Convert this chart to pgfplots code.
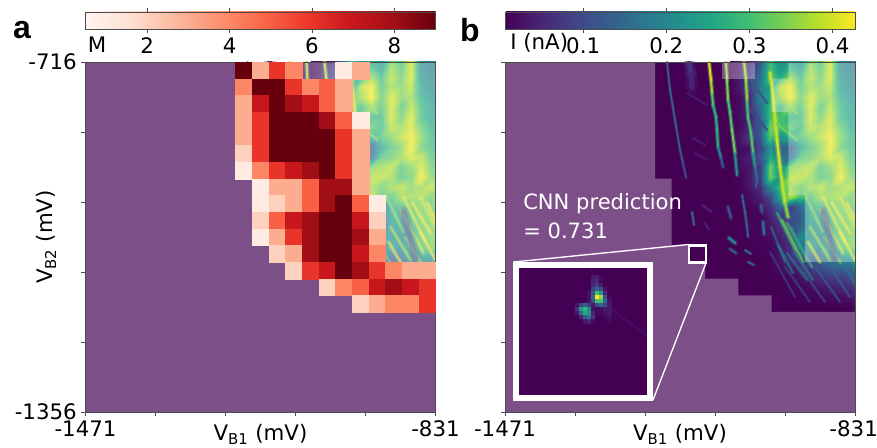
\documentclass[border=0pt]{standalone}
\usepackage{pgfplots}
\usepackage{fontspec}
\pgfplotsset{compat=1.18}
\usepgfplotslibrary{patchplots}
\setmainfont{DejaVu Sans}
\newfontfamily\panelfont{Liberation Sans}
\pgfplotsset{
  colormap={vir}{rgb255=(68,1,84) rgb255=(72,36,117) rgb255=(65,68,135) rgb255=(53,95,141) rgb255=(42,120,142) rgb255=(33,145,140) rgb255=(34,168,132) rgb255=(68,191,112) rgb255=(122,209,81) rgb255=(189,223,38) rgb255=(253,231,37)},
  colormap={red}{rgb255=(255,245,240) rgb255=(254,224,210) rgb255=(252,187,161) rgb255=(252,146,114) rgb255=(251,106,74) rgb255=(239,59,44) rgb255=(203,24,29) rgb255=(165,15,21) rgb255=(103,0,13)},
  panel/.style={scale only axis,width=262.5pt,height=262.5pt,anchor=south west},
  fr/.style={axis line style={black!70,line width=.6pt},tick style={black!70,line width=.6pt},major tick length=3pt,tick align=outside,tick pos=left,
    tick label style={font=\fontsize{16}{16}\selectfont},label style={font=\fontsize{16}{16}\selectfont}},
  lab/.style={xlabel={V\textsubscript{B1} (mV)},ylabel={V\textsubscript{B2} (mV)},
    xlabel style={at={(axis description cs:0.5,-0.082)},anchor=base},
    ylabel style={at={(axis description cs:-0.112,0.5)},anchor=center,rotate=0}},
  st/.style={mesh,point meta=explicit,line cap=round,forget plot},
}
\newcommand{\Stripe}[2]{%
  \addplot[st,line width=#1*2.2,opacity=.35] coordinates {#2};
  \addplot[st,line width=#1] coordinates {#2};
}
\newcommand{\Soft}[2]{%
  \addplot[st,line width=#1*2,opacity=.3] coordinates {#2};
  \addplot[st,line width=#1,opacity=.55] coordinates {#2};
}
\newcommand{\FieldPlots}{%
  \addplot[matrix plot*,shader=interp,point meta=explicit,mesh/cols=13,mesh/check=false] coordinates {
(230,0)[0](240,0)[3](250,0)[4](260,0)[10](270,0)[30](280,0)[20](290,0)[24](300,0)[20](310,0)[34](320,0)[28](330,0)[40](340,0)[20](350,0)[18]
(230,10)[0](240,10)[3](250,10)[6](260,10)[14](270,10)[30](280,10)[22](290,10)[28](300,10)[22](310,10)[36](320,10)[30](330,10)[40](340,10)[20](350,10)[18]
(230,20)[0](240,20)[4](250,20)[8](260,20)[16](270,20)[32](280,20)[26](290,20)[36](300,20)[28](310,20)[38](320,20)[32](330,20)[40](340,20)[22](350,20)[20]
(230,30)[0](240,30)[4](250,30)[10](260,30)[18](270,30)[24](280,30)[38](290,30)[42](300,30)[30](310,30)[36](320,30)[34](330,30)[38](340,30)[24](350,30)[20]
(230,40)[0](240,40)[2](250,40)[6](260,40)[20](270,40)[26](280,40)[36](290,40)[43](300,40)[32](310,40)[40](320,40)[34](330,40)[36](340,40)[26](350,40)[22]
(230,50)[0](240,50)[2](250,50)[6](260,50)[16](270,50)[30](280,50)[28](290,50)[36](300,50)[30](310,50)[40](320,50)[30](330,50)[38](340,50)[28](350,50)[24]
(230,60)[0](240,60)[2](250,60)[4](260,60)[14](270,60)[30](280,60)[30](290,60)[28](300,60)[28](310,60)[40](320,60)[32](330,60)[40](340,60)[28](350,60)[24]
(230,70)[0](240,70)[2](250,70)[6](260,70)[12](270,70)[34](280,70)[30](290,70)[32](300,70)[28](310,70)[38](320,70)[36](330,70)[40](340,70)[32](350,70)[26]
(230,80)[0](240,80)[3](250,80)[8](260,80)[12](270,80)[32](280,80)[22](290,80)[26](300,80)[30](310,80)[34](320,80)[38](330,80)[42](340,80)[34](350,80)[28]
(230,90)[0](240,90)[2](250,90)[3](260,90)[10](270,90)[22](280,90)[14](290,90)[12](300,90)[24](310,90)[30](320,90)[34](330,90)[42](340,90)[32](350,90)[28]
(230,100)[0](240,100)[2](250,100)[5](260,100)[12](270,100)[26](280,100)[18](290,100)[14](300,100)[30](310,100)[32](320,100)[36](330,100)[40](340,100)[38](350,100)[30]
(230,110)[0](240,110)[2](250,110)[3](260,110)[8](270,110)[34](280,110)[20](290,110)[34](300,110)[36](310,110)[38](320,110)[30](330,110)[34](340,110)[40](350,110)[32]
(230,120)[0](240,120)[1](250,120)[4](260,120)[8](270,120)[34](280,120)[22](290,120)[38](300,120)[38](310,120)[36](320,120)[30](330,120)[32](340,120)[42](350,120)[34]
(230,130)[0](240,130)[1](250,130)[3](260,130)[6](270,130)[20](280,130)[30](290,130)[36](300,130)[32](310,130)[36](320,130)[38](330,130)[34](340,130)[36](350,130)[38]
(230,140)[0](240,140)[0](250,140)[2](260,140)[4](270,140)[10](280,140)[26](290,140)[38](300,140)[30](310,140)[30](320,140)[36](330,140)[36](340,140)[36](350,140)[32]
(230,150)[0](240,150)[0](250,150)[1](260,150)[2](270,150)[6](280,150)[14](290,150)[8](300,150)[14](310,150)[26](320,150)[28](330,150)[32](340,150)[34](350,150)[32]
(230,160)[0](240,160)[0](250,160)[1](260,160)[1](270,160)[4](280,160)[8](290,160)[10](300,160)[12](310,160)[24](320,160)[26](330,160)[30](340,160)[34](350,160)[34]
(230,170)[0](240,170)[0](250,170)[1](260,170)[1](270,170)[3](280,170)[6](290,170)[10](300,170)[14](310,170)[22](320,170)[22](330,170)[28](340,170)[32](350,170)[34]
(230,180)[0](240,180)[0](250,180)[1](260,180)[1](270,180)[2](280,180)[4](290,180)[8](300,180)[20](310,180)[22](320,180)[20](330,180)[26](340,180)[32](350,180)[34]
(230,190)[0](240,190)[0](250,190)[0](260,190)[1](270,190)[1](280,190)[3](290,190)[6](300,190)[16](310,190)[24](320,190)[20](330,190)[28](340,190)[30](350,190)[34]
(230,200)[0](240,200)[0](250,200)[0](260,200)[0](270,200)[1](280,200)[3](290,200)[6](300,200)[10](310,200)[14](320,200)[16](330,200)[20](340,200)[22](350,200)[22]
(230,210)[0](240,210)[0](250,210)[0](260,210)[0](270,210)[0](280,210)[2](290,210)[3](300,210)[5](310,210)[8](320,210)[11](330,210)[13](340,210)[15](350,210)[15]
(230,220)[0](240,220)[0](250,220)[0](260,220)[0](270,220)[0](280,220)[0](290,220)[1](300,220)[3](310,220)[4](320,220)[6](330,220)[8](340,220)[8](350,220)[10]
(230,230)[0](240,230)[0](250,230)[0](260,230)[0](270,230)[0](280,230)[0](290,230)[1](300,230)[1](310,230)[2](320,230)[3](330,230)[4](340,230)[5](350,230)[6]
(230,240)[0](240,240)[0](250,240)[0](260,240)[0](270,240)[0](280,240)[0](290,240)[0](300,240)[1](310,240)[1](320,240)[1](330,240)[2](340,240)[2](350,240)[3]
(230,250)[0](240,250)[0](250,250)[0](260,250)[0](270,250)[0](280,250)[0](290,250)[0](300,250)[0](310,250)[0](320,250)[0](330,250)[0](340,250)[0](350,250)[0]
  };
  \Stripe{1.1pt}{(162,0)[13](165,28)[14](170,58)[14](175,88)[13](178,101)[12](181,116)[9]}
  \Stripe{1.5pt}{(204,0)[40](206,18)[40](207,31)[34](208,43)[28](211,55)[26](212,68)[28](213,85)[26](216,96)[14](218,105)[8]}
  \Stripe{1.5pt}{(221,0)[36](222,18)[36](223,38)[32](225,50)[28](227,68)[34](230,91)[32](232,113)[12]}
  \Stripe{1.5pt}{(239,0)[36](241,18)[38](242,38)[34](243,56)[26](246,70)[34](248,91)[28](250,105)[18](252,118)[12]}
  \Stripe{4pt}{(184,0)[6](186,12)[7](187,25)[3]}
  \Stripe{.8pt}{(182,31)[4](202,43)[5]}
  \Stripe{1pt}{(188,76)[4](200,83)[4]}
  \Stripe{1pt}{(190,91)[4](203,98)[3]}
  \Stripe{1.8pt}{(265,11)[38](268,35)[40](270,55)[38](272,78)[40](275,105)[40](280,141)[38](283,155)[32]}
  \Stripe{1.2pt}{(245,18)[10](254,30)[14](262,41)[10]}
  \Stripe{1.2pt}{(245,48)[8](254,58)[12](262,68)[10]}
  \Stripe{1.2pt}{(248,70)[8](258,88)[12]}
  \Stripe{1.4pt}{(272,35)[36](292,51)[34]}
  \Stripe{1.4pt}{(272,62)[34](292,78)[32]}
  \Stripe{1.2pt}{(187,150)[15](189,163)[13]}
  \Stripe{.9pt}{(197,143)[6](207,150)[5]}
  \Stripe{.9pt}{(200,161)[6](204,168)[5]}
  \Stripe{1.6pt}{(223,145)[10](226,156)[12]}
  \Stripe{1.2pt}{(237,133)[13](240,150)[15](242,165)[14](243,175)[12]}
  \Stripe{1.2pt}{(252,118)[12](251,125)[14]}
  \Stripe{1.8pt}{(256,143)[13](257,150)[11]}
  \Stripe{1.6pt}{(258,160)[18](259,172)[14]}
  \Stripe{1.8pt}{(224,176)[20](230,181)[18]}
  \Stripe{1.4pt}{(225,187)[13](231,191)[12]}
  \Stripe{1.2pt}{(240,188)[15](246,192)[13]}
  \Stripe{1.2pt}{(243,200)[14](249,203)[12]}
  \Soft{1.4pt}{(272,151)[28](290,188)[30]}
  \Soft{1.4pt}{(277,158)[34](298,200)[34]}
  \Soft{1.4pt}{(282,161)[30](307,205)[30]}
  \Soft{1.2pt}{(286,165)[24](300,195)[24]}
  \Soft{1.2pt}{(266,165)[16](280,200)[16]}
  \Soft{1.4pt}{(273,183)[18](288,211)[20]}
  \Soft{1.2pt}{(282,191)[18](302,218)[20]}
  \Soft{1.2pt}{(290,191)[22](308,218)[20]}
  \Soft{1pt}{(265,190)[10](290,235)[10]}
  \Soft{1pt}{(280,205)[12](305,240)[10]}
  \Soft{1pt}{(295,205)[14](320,240)[12]}
  \Soft{1pt}{(310,205)[18](335,240)[12]}
  \Soft{1pt}{(325,205)[18](345,235)[14]}
  \Soft{1pt}{(340,205)[20](350,222)[16]}
  \Soft{1.5pt}{(327,141)[42](345,171)[42]}
  \Soft{1.5pt}{(342,141)[42](350,158)[42]}
  \Soft{1.5pt}{(315,148)[38](338,191)[42]}
  \Soft{1.5pt}{(305,165)[36](325,198)[38]}
  \Soft{1.5pt}{(300,133)[34](318,170)[36]}
  \Soft{1.5pt}{(318,135)[42](340,180)[40]}
  \Soft{1.5pt}{(335,135)[40](350,165)[40]}
  \Soft{1.5pt}{(303,180)[40](315,200)[42]}
  \Soft{1.5pt}{(320,175)[36](335,200)[38]}
  \Soft{1.5pt}{(335,170)[42](350,198)[42]}
  \Soft{4pt}{(318,150)[10](330,196)[10]}
  \addplot[fill=white,fill opacity=.31,draw=none,forget plot] coordinates {(0,0)(150,0)(150,116.67)(166.67,116.67)(166.67,183.33)(183.33,183.33)(183.33,200)(200,200)(200,216.67)(233.33,216.67)(233.33,233.33)(266.67,233.33)(266.67,250)(350,250)(350,350)(0,350)} -- cycle;
  \addplot[fill=white,fill opacity=.31,draw=none,forget plot] coordinates {(283.33,0)(283.33,16.67)(266.67,16.67)(266.67,50)(283.33,50)(283.33,133.33)(300,133.33)(300,200)(350,200)(350,0)} -- cycle;
  \addplot[fill=white,fill opacity=.31,draw=none,forget plot] coordinates {(216.67,0)(250,0)(250,16.67)(216.67,16.67)} -- cycle;
}
\begin{document}
\begin{tikzpicture}
\path[use as bounding box] (0pt,0pt) rectangle (657.75pt,336pt);
% ---------- panel a : measured field below, map of M above
\begin{axis}[panel,at={(64.125pt,27pt)},xmin=0,xmax=350,ymin=0,ymax=350,y dir=reverse,axis lines=none,
  colormap name=vir,point meta min=0.6,point meta max=42.7,
  axis background/.style={fill={rgb,255:red,68;green,1;blue,84}}]
\FieldPlots
\end{axis}
\begin{axis}[panel,fr,lab,at={(64.125pt,27pt)},xmin=0,xmax=21,ymin=0,ymax=21,y dir=reverse,
  xtick={0,4.2,8.4,12.6,16.8,21},xticklabels={-1471,,,,,-831},
  ytick={0,4.2,8.4,12.6,16.8,21},yticklabels={-716,,,,,-1356},
  colormap name=red,point meta min=0.5,point meta max=9,
  colorbar horizontal,
  colorbar style={at={(0,1.0943)},anchor=south west,scale only axis,width=262.5pt,height=12.75pt,
    xtick={2,4,6,8},xticklabels={2,4,6,8},ytick=\empty,xticklabel pos=lower,xlabel={},ylabel={},
    axis line style={black!70,line width=.6pt},tick style={black!70,line width=.6pt},major tick length=3pt,tick align=outside,
    tick label style={font=\fontsize{16}{16}\selectfont}}]
\addplot[scatter,only marks,mark=square*,mark size=6.25pt,scatter src=explicit,
  scatter/use mapped color={draw=mapped color,fill=mapped color},mark options={line width=.15pt}]
 coordinates {
(9.5,.5)[9](10.5,.5)[3](11.5,.5)[6](12.5,.5)[4](15.5,.5)[1](16.5,.5)[3]
(9.5,1.5)[4](10.5,1.5)[9](11.5,1.5)[9](12.5,1.5)[6](13.5,1.5)[4](14.5,1.5)[5](15.5,1.5)[3]
(9.5,2.5)[3](10.5,2.5)[7](11.5,2.5)[9](12.5,2.5)[8](13.5,2.5)[7](14.5,2.5)[5](15.5,2.5)[3]
(9.5,3.5)[3](10.5,3.5)[6](11.5,3.5)[9](12.5,3.5)[9](13.5,3.5)[9](14.5,3.5)[8](15.5,3.5)[5](16.5,3.5)[1]
(9.5,4.5)[3](10.5,4.5)[6](11.5,4.5)[9](12.5,4.5)[9](13.5,4.5)[9](14.5,4.5)[9](15.5,4.5)[6](16.5,4.5)[3]
(9.5,5.5)[2](10.5,5.5)[6](11.5,5.5)[9](12.5,5.5)[9](13.5,5.5)[9](14.5,5.5)[9](15.5,5.5)[6](16.5,5.5)[3]
(9.5,6.5)[1](10.5,6.5)[4](11.5,6.5)[6](12.5,6.5)[7](13.5,6.5)[8](14.5,6.5)[9](15.5,6.5)[6](16.5,6.5)[3]
(10.5,7.5)[1](11.5,7.5)[3](12.5,7.5)[3](13.5,7.5)[5](14.5,7.5)[8](15.5,7.5)[8](16.5,7.5)[3]
(10.5,8.5)[1](11.5,8.5)[2](12.5,8.5)[3](13.5,8.5)[5](14.5,8.5)[8](15.5,8.5)[9](16.5,8.5)[5](17.5,8.5)[1]
(10.5,9.5)[2](11.5,9.5)[5](12.5,9.5)[7](13.5,9.5)[8](14.5,9.5)[9](15.5,9.5)[9](16.5,9.5)[7](17.5,9.5)[2]
(10.5,10.5)[1](11.5,10.5)[3](12.5,10.5)[6](13.5,10.5)[8](14.5,10.5)[9](15.5,10.5)[9](16.5,10.5)[8](17.5,10.5)[3]
(11.5,11.5)[2](12.5,11.5)[3](13.5,11.5)[8](14.5,11.5)[9](15.5,11.5)[9](16.5,11.5)[7](17.5,11.5)[4]
(12.5,12.5)[2](13.5,12.5)[6](14.5,12.5)[7](15.5,12.5)[9](16.5,12.5)[8](17.5,12.5)[6](18.5,12.5)[4](19.5,12.5)[3](20.5,12.5)[3]
(14.5,13.5)[2](15.5,13.5)[4](16.5,13.5)[5](17.5,13.5)[7](18.5,13.5)[8](19.5,13.5)[7](20.5,13.5)[6]
(16.5,14.5)[2](17.5,14.5)[3](18.5,14.5)[4](19.5,14.5)[4](20.5,14.5)[6]
 };
\end{axis}
% ---------- panel b
\begin{axis}[panel,fr,lab,at={(378.75pt,27pt)},xmin=0,xmax=350,ymin=0,ymax=350,y dir=reverse,
  xtick={0,70,140,210,280,350},xticklabels={-1471,,,,,-831\kern 2pt},
  ytick={0,70,140,210,280,350},yticklabels={,,,,,},ylabel={},
  colormap name=vir,point meta min=0.6,point meta max=42.7,
  axis background/.style={fill={rgb,255:red,68;green,1;blue,84}},
  axis on top,
  colorbar horizontal,
  colorbar style={at={(0,1.0943)},anchor=south west,scale only axis,width=262.5pt,height=12.75pt,
    xtick={10,20,30,40},xticklabels={0.1,0.2,0.3,0.4},ytick=\empty,xticklabel pos=lower,xlabel={},ylabel={},
    axis line style={black!70,line width=.6pt},tick style={black!70,line width=.6pt},major tick length=3pt,tick align=outside,
    tick label style={font=\fontsize{16}{16}\selectfont}}]
\FieldPlots
\end{axis}
% ---------- inset
\begin{axis}[scale only axis,width=96pt,height=96pt,anchor=south west,at={(389.5pt,39.2pt)},
  xmin=0,xmax=32,ymin=0,ymax=32,y dir=reverse,axis lines=none,
  colormap name=vir,point meta min=0,point meta max=43,
  axis background/.style={fill={rgb,255:red,68;green,1;blue,84}}]
\addplot[matrix plot*,point meta=explicit,mesh/cols=10] coordinates {
(13.5,2.5)[0](14.5,2.5)[0](15.5,2.5)[0](16.5,2.5)[0](17.5,2.5)[0](18.5,2.5)[3](19.5,2.5)[4](20.5,2.5)[1](21.5,2.5)[0](22.5,2.5)[0]
(13.5,3.5)[0](14.5,3.5)[0](15.5,3.5)[0](16.5,3.5)[0](17.5,3.5)[0](18.5,3.5)[4](19.5,3.5)[5](20.5,3.5)[1](21.5,3.5)[0](22.5,3.5)[0]
(13.5,4.5)[0](14.5,4.5)[0](15.5,4.5)[0](16.5,4.5)[0](17.5,4.5)[0](18.5,4.5)[5](19.5,4.5)[8](20.5,4.5)[3](21.5,4.5)[0](22.5,4.5)[0]
(13.5,5.5)[0](14.5,5.5)[0](15.5,5.5)[0](16.5,5.5)[0](17.5,5.5)[0](18.5,5.5)[8](19.5,5.5)[14](20.5,5.5)[10](21.5,5.5)[2](22.5,5.5)[0]
(13.5,6.5)[0](14.5,6.5)[0](15.5,6.5)[0](16.5,6.5)[0](17.5,6.5)[2](18.5,6.5)[12](19.5,6.5)[30](20.5,6.5)[22](21.5,6.5)[5](22.5,6.5)[0]
(13.5,7.5)[0](14.5,7.5)[0](15.5,7.5)[0](16.5,7.5)[0](17.5,7.5)[2](18.5,7.5)[14](19.5,7.5)[43](20.5,7.5)[36](21.5,7.5)[10](22.5,7.5)[1]
(13.5,8.5)[0](14.5,8.5)[0](15.5,8.5)[0](16.5,8.5)[0](17.5,8.5)[2](18.5,8.5)[10](19.5,8.5)[30](20.5,8.5)[30](21.5,8.5)[14](22.5,8.5)[2]
(13.5,9.5)[0](14.5,9.5)[2](15.5,9.5)[8](16.5,9.5)[14](17.5,9.5)[8](18.5,9.5)[3](19.5,9.5)[10](20.5,9.5)[14](21.5,9.5)[9](22.5,9.5)[3]
(13.5,10.5)[0](14.5,10.5)[6](15.5,10.5)[24](16.5,10.5)[28](17.5,10.5)[20](18.5,10.5)[2](19.5,10.5)[1](20.5,10.5)[2](21.5,10.5)[3](22.5,10.5)[3]
(13.5,11.5)[0](14.5,11.5)[3](15.5,11.5)[14](16.5,11.5)[26](17.5,11.5)[22](18.5,11.5)[4](19.5,11.5)[1](20.5,11.5)[1](21.5,11.5)[2](22.5,11.5)[3]
(13.5,12.5)[0](14.5,12.5)[0](15.5,12.5)[4](16.5,12.5)[12](17.5,12.5)[16](18.5,12.5)[6](19.5,12.5)[0](20.5,12.5)[0](21.5,12.5)[1](22.5,12.5)[2]
(13.5,13.5)[0](14.5,13.5)[0](15.5,13.5)[0](16.5,13.5)[3](17.5,13.5)[4](18.5,13.5)[1](19.5,13.5)[0](20.5,13.5)[0](21.5,13.5)[0](22.5,13.5)[1]
};
\addplot[mesh,point meta=explicit,line width=1pt,opacity=.6] coordinates {(18,0)[3](18.5,2.5)[3]};
\addplot[mesh,point meta=explicit,line width=1.4pt,opacity=.6] coordinates {(22.5,10)[3](32,17)[2]};
\end{axis}
% ---------- annotation, in pixel units from the top left
\begin{scope}[x=.75pt,y=-.75pt,yshift=336pt]
\draw[white,line width=4.5pt] (516.3,264.7) rectangle (650.3,397.7);
\draw[white,line width=1pt] (513.5,262) -- (689,244.5);
\draw[white,line width=1pt] (653,400) -- (706,263);
\draw[white,line width=1.6pt] (689,245.5) rectangle (706,262.5);
\node[white,anchor=west,inner sep=0pt,font=\fontsize{15.8}{16}\selectfont] at (523,204) {CNN prediction};
\node[white,anchor=west,inner sep=0pt,font=\fontsize{15.8}{16}\selectfont] at (523,231) {= 0.731};
\node[anchor=center,font=\fontsize{16}{16}\selectfont] at (97,45) {M};
\node[anchor=west,inner sep=0pt,font=\fontsize{16}{16}\selectfont] at (510,43) {I (nA)};
\node[font=\panelfont\bfseries\fontsize{24}{24}\selectfont,anchor=center] at (22,30) {a};
\node[font=\panelfont\bfseries\fontsize{24}{24}\selectfont,anchor=center] at (470,30) {b};
\end{scope}
\end{tikzpicture}
\end{document}
